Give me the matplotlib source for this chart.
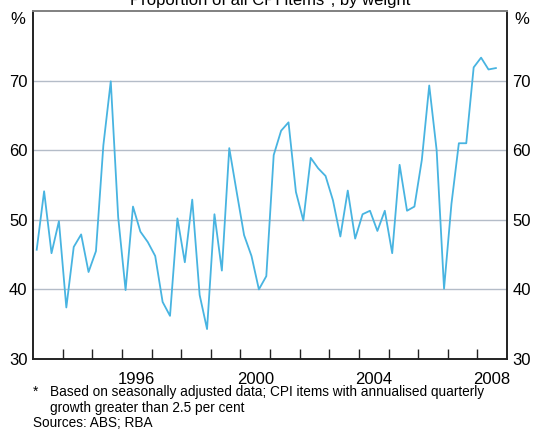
import numpy as np
import matplotlib
matplotlib.use('Agg')
import matplotlib.pyplot as plt
from matplotlib.ticker import FixedLocator, NullFormatter, FixedFormatter

plt.rcParams['font.family'] = ['Liberation Sans', 'DejaVu Sans']

# quarterly data, 1993 Q1 to 2008 Q3
start_year = 1993
share = [45.7, 54.1, 45.2, 49.8, 37.4, 46.1, 47.9, 42.5, 45.5, 60.7,
         69.9, 50.4, 39.9, 51.9, 48.3, 46.8, 44.8, 38.2, 36.2, 50.2,
         43.9, 52.9, 39.2, 34.3, 50.8, 42.7, 60.3, 54.0, 47.8, 44.8,
         40.0, 41.9, 59.3, 62.8, 64.0, 54.0, 49.9, 58.9, 57.4, 56.3,
         52.8, 47.6, 54.2, 47.3, 50.8, 51.3, 48.4, 51.3, 45.2, 57.9,
         51.3, 51.9, 58.6, 69.3, 60.0, 40.1, 52.3, 61.0, 61.0, 71.9,
         73.3, 71.6, 71.8]
year_labels = ['1996', '2000', '2004', '2008']
yticks = [30, 40, 50, 60, 70]

quarters = start_year + (np.arange(len(share)) + 0.5) / 4

fig = plt.figure(figsize=(5.35, 4.30), dpi=100)
ax = fig.add_axes([33 / 535, 1 - 359 / 430, 474 / 535, 348 / 430])

ax.plot(quarters, share, color='#48B4E1', lw=1.3, zorder=3)

ax.set_xlim(1993, 2009)
ax.set_ylim(30, 80)

for y in yticks[1:]:
    ax.axhline(y, color='#B4BCC8', lw=1.0, zorder=1)

# year boundary ticks, labels centred within the year
ax.xaxis.set_major_locator(FixedLocator(np.arange(1994, 2009)))
ax.xaxis.set_major_formatter(NullFormatter())
ax.xaxis.set_minor_locator(FixedLocator([int(y) + 0.5 for y in year_labels]))
ax.xaxis.set_minor_formatter(FixedFormatter(year_labels))
ax.tick_params(axis='x', which='major', direction='in', length=7, width=1.0, color='#222222')
ax.tick_params(axis='x', which='minor', length=0, pad=9, labelsize=12)

ax.set_yticks(yticks)
ax.tick_params(axis='y', length=0, labelsize=12, pad=4, labelleft=True, labelright=True)

for side in ['left', 'right', 'bottom']:
    ax.spines[side].set_color('#222222')
    ax.spines[side].set_linewidth(1.4)
ax.spines['top'].set_color('#808080')
ax.spines['top'].set_linewidth(1.4)

fig.text(18 / 535, 1 - 19 / 430, '%', fontsize=12, ha='center', va='center')
fig.text(522 / 535, 1 - 19 / 430, '%', fontsize=12, ha='center', va='center')

fig.text(270 / 535, 1 - 5 / 430, 'Proportion of all CPI items*, by weight',
         fontsize=12, ha='center', va='baseline')

fig.text(33 / 535, 1 - 396 / 430, '*', fontsize=9.8, ha='left', va='baseline')
fig.text(50 / 535, 1 - 396 / 430,
         'Based on seasonally adjusted data; CPI items with annualised quarterly',
         fontsize=9.8, ha='left', va='baseline')
fig.text(50 / 535, 1 - 412 / 430, 'growth greater than 2.5 per cent',
         fontsize=9.8, ha='left', va='baseline')
fig.text(33 / 535, 1 - 427 / 430, 'Sources: ABS; RBA',
         fontsize=9.8, ha='left', va='baseline')

fig.savefig('out.png', dpi=100)
